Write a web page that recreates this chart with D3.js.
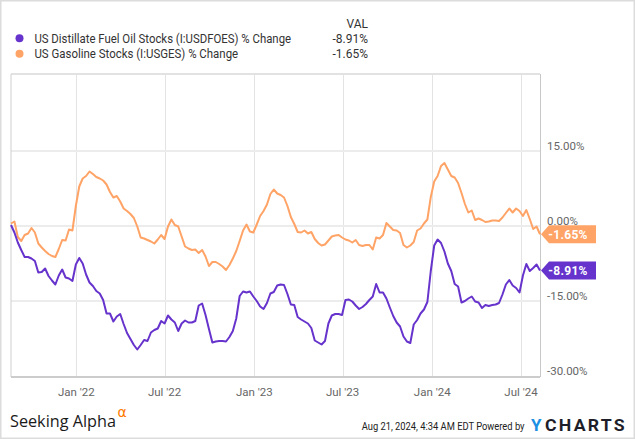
<!DOCTYPE html>
<html><head><meta charset="utf-8">
<script src="https://cdn.jsdelivr.net/npm/d3@7"></script>
<style>html,body{margin:0;padding:0;background:#fff;} svg{display:block;font-family:Roboto,"Noto Sans",sans-serif;}</style>
</head><body><svg id="c" width="635" height="439"></svg>
<script>
// ---- data ----
const seriesNames = ["US Distillate Fuel Oil Stocks (I:USDFOES) % Change", "US Gasoline Stocks (I:USGES) % Change"];
const seriesColors = ["#6633cc", "#ffa366"];
const latestLabels = ["-8.91%", "-1.65%"];
const startWeek = "2021-08-20"; // weekly observations, one per week from this date
const distillate = [0.2,-1.3,-3.3,-4.8,-6.2,-6.2,-6.5,-7.0,-9.3,-9.2,-8.5,-10.0,-10.9,-11.7,-9.9,-8.7,-10.3,-10.5,-11.0,-7.7,
 -6.4,-7.5,-9.7,-11.3,-12.0,-13.0,-13.5,-14.8,-17.5,-17.5,-19.1,-18.1,-17.6,-19.6,-21.4,-22.6,-23.8,-24.7,-23.8,-22.8,
 -23.0,-21.3,-20.8,-20.5,-19.0,-19.5,-17.9,-18.7,-19.3,-21.0,-19.5,-18.9,-19.3,-19.3,-19.0,-15.9,-15.5,-17.8,-20.6,-23.3,
 -23.1,-23.0,-23.0,-23.1,-22.2,-21.0,-18.5,-14.0,-13.1,-13.3,-13.1,-14.1,-15.0,-16.1,-16.6,-15.4,-13.5,-13.2,-11.9,-11.7,
 -11.8,-13.6,-15.7,-15.8,-18.2,-18.7,-19.1,-19.5,-20.4,-22.9,-23.3,-23.7,-23.0,-19.5,-17.9,-17.6,-17.6,-17.8,-14.8,-14.7,
 -15.1,-15.9,-16.6,-16.2,-15.6,-14.8,-14.1,-11.6,-13.3,-13.3,-14.5,-16.3,-18.0,-19.3,-20.1,-22.1,-23.1,-23.4,-19.7,-18.8,
 -17.5,-16.7,-15.2,-9.0,-3.9,-2.7,-3.4,-5.1,-7.5,-9.0,-11.6,-12.1,-15.3,-15.0,-14.5,-14.1,-15.1,-15.3,-16.4,-15.8,
 -16.0,-15.8,-15.7,-15.4,-13.7,-11.7,-10.8,-11.9,-12.4,-13.3,-9.9,-7.6,-9.0,-8.4,-7.7,-8.91];
const gasoline = [0.5,0.9,-2.2,-3.0,-1.8,-1.5,-0.4,-1.3,-3.5,-4.3,-5.0,-5.6,-6.0,-6.2,-4.6,-2.8,-2.9,-0.7,-0.9,4.0,
 7.9,9.5,10.0,10.9,10.4,9.8,9.5,9.1,8.3,6.8,5.7,6.0,4.9,3.5,3.0,2.4,1.6,-0.1,-2.3,-2.5,
 -2.8,-3.1,-3.5,-2.7,-1.8,-2.6,-0.1,1.3,0.2,-0.1,-2.1,-4.1,-4.5,-4.8,-4.7,-5.4,-4.8,-6.1,-8.0,-7.2,
 -7.2,-7.6,-8.1,-8.8,-7.8,-6.5,-5.0,-3.0,-0.9,0.3,-1.1,-1.3,0.3,2.0,3.0,4.3,6.4,7.3,6.5,6.2,
 5.7,4.0,1.8,0.4,-1.2,-1.3,-0.9,-1.5,-1.2,-2.6,-3.4,-3.9,-3.7,-2.9,-2.1,-1.9,-1.8,-2.3,-2.7,-2.9,
 -3.3,-2.8,-3.8,-4.0,-3.8,-3.8,-4.7,-2.3,-2.5,-1.8,0.6,-0.1,-0.8,-0.9,-1.4,-3.8,-4.3,-3.9,-3.2,-0.9,
 -0.5,0.5,1.3,5.8,8.9,10.0,12.0,12.6,11.3,10.0,9.7,8.6,6.6,4.4,2.7,3.1,1.2,1.5,1.2,0.8,
 0.9,1.1,1.1,1.0,1.7,2.6,3.5,2.7,3.5,3.0,2.0,3.2,1.4,-0.6,-0.1,-1.65];
const xTickDates = ["2022-01-01","2022-07-01","2023-01-01","2023-07-01","2024-01-01","2024-07-01"];
const xTickLabels = ["Jan '22","Jul '22","Jan '23","Jul '23","Jan '24","Jul '24"];
const yTicks = [15, 0, -15, -30];
const yTickLabels = ["15.00%","0.00%","-15.00%","-30.00%"];
const headerLabel = "VAL";
const footerDate = "Aug 21, 2024, 4:34 AM EDT Powered by";

// ---- build ----
const svg = d3.select("#c");
const parse = d3.utcParse("%Y-%m-%d");
const t0 = parse(startWeek);
const dates = distillate.map((_, i) => d3.utcDay.offset(t0, 7 * i));
const allSeries = [distillate, gasoline];

const L = 11, R = 540, T = 74, B = 377;
const x = d3.scaleUtc().domain([dates[0], dates[dates.length - 1]]).range([L, R]);
const y = d3.scaleLinear().domain([-30.2, 30.4]).range([B, T]);

// helper: text squeezed horizontally to a target width (via transform)
function fitText(parent, str, x0, y0, width, attrs) {
  const gg = parent.append("g");
  const t = gg.append("text").attr("x", 0).attr("y", 0).text(str);
  Object.entries(attrs).forEach(([k, v]) => t.attr(k, v));
  const w = t.node().getComputedTextLength();
  const s = w > 0 ? width / w : 1;
  gg.attr("transform", `translate(${x0},${y0}) scale(${s},1)`);
  return t;
}

// outer frame
svg.append("rect").attr("x", 0.75).attr("y", 0.75).attr("width", 633.5).attr("height", 437.5)
  .attr("fill", "none").attr("stroke", "#dcdcdc").attr("stroke-width", 1.5);

// gridlines
const g = svg.append("g");
g.selectAll("line.v").data(xTickDates).join("line")
  .attr("x1", d => Math.round(x(parse(d))) + 0.5).attr("x2", d => Math.round(x(parse(d))) + 0.5)
  .attr("y1", T).attr("y2", B).attr("stroke", "#e3e3e3").attr("stroke-width", 1);
g.selectAll("line.h").data(yTicks.filter(d => d > -30)).join("line")
  .attr("x1", L).attr("x2", R).attr("y1", d => y(d)).attr("y2", d => y(d))
  .attr("stroke", "#ececec").attr("stroke-width", 2);
// frame of plot
g.append("line").attr("x1", L).attr("x2", R).attr("y1", T).attr("y2", T).attr("stroke", "#e2e2e2").attr("stroke-width", 2);
g.append("line").attr("x1", L).attr("x2", L).attr("y1", T).attr("y2", B).attr("stroke", "#cfcfcf").attr("stroke-width", 1);
g.append("line").attr("x1", R + 0.5).attr("x2", R + 0.5).attr("y1", T).attr("y2", B).attr("stroke", "#c8c8c8").attr("stroke-width", 1);
g.append("line").attr("x1", L).attr("x2", R).attr("y1", B).attr("y2", B).attr("stroke", "#cccccc").attr("stroke-width", 2);

// y labels
svg.append("g").selectAll("text").data(yTicks).join("text")
  .attr("x", 547).attr("y", d => y(d) - 1.5)
  .attr("font-size", 11.5).attr("fill", "#666").text((d, i) => yTickLabels[i]);

// x labels
svg.append("g").selectAll("text").data(xTickDates).join("text")
  .attr("x", d => x(parse(d))).attr("y", 396).attr("text-anchor", "middle")
  .attr("font-size", 11.5).attr("fill", "#666").text((d, i) => xTickLabels[i]);

// lines
const line = d3.line().x((d, i) => x(dates[i])).y(d => y(d)).curve(d3.curveLinear);
[1, 0].forEach(k => {
  svg.append("path").datum(allSeries[k]).attr("d", line)
    .attr("fill", "none").attr("stroke", seriesColors[k]).attr("stroke-width", 2)
    .attr("stroke-linejoin", "round");
});

// end tags
allSeries.forEach((s, k) => {
  const yy = y(s[s.length - 1]);
  const tg = svg.append("g");
  tg.append("path").attr("d", `M${R + 1},${yy} L${R + 9},${yy - 9} L596,${yy - 9} L596,${yy + 9} L${R + 9},${yy + 9} Z`)
    .attr("fill", seriesColors[k]);
  tg.append("text").attr("x", 568).attr("y", yy + 4.5).attr("text-anchor", "middle")
    .attr("font-size", 12).attr("font-weight", "bold").attr("fill", "#fff")
    .attr("letter-spacing", 0.3).text(latestLabels[k]);
});

// legend
svg.append("text").attr("x", 368).attr("y", 27.5).attr("text-anchor", "end")
  .attr("font-size", 12).attr("fill", "#333").text(headerLabel);
const legW = [257, 204];
seriesNames.forEach((n, k) => {
  const cy = 38.3 + k * 15.5;
  svg.append("circle").attr("cx", 19.5).attr("cy", cy).attr("r", 4).attr("fill", seriesColors[k]);
  fitText(svg, n, 34.4, cy + 4.3, legW[k], {"font-size": 12, "fill": "#333"});
  svg.append("text").attr("x", 368).attr("y", cy + 4.3).attr("text-anchor", "end").attr("font-size", 12)
    .attr("fill", "#333").text(latestLabels[k]);
});

// footer
fitText(svg, "Seeking Alpha", 10, 427, 106, {"font-size": 17, "fill": "#1a1a1a", "font-family": "'Open Sans',Lato,sans-serif"});
svg.append("text").attr("x", 117.5).attr("y", 417).attr("font-family", "'DejaVu Sans',sans-serif")
  .attr("font-size", 14).attr("fill", "#ff7a00").text("α");
fitText(svg, footerDate, 361.7, 429.5, 163, {"font-size": 11.5, "fill": "#222"});
svg.append("text").attr("x", 531).attr("y", 431).attr("font-size", 17).attr("font-weight", "bold")
  .attr("fill", "#1a8fe3").text("Y");
fitText(svg, "CHARTS", 545, 431, 82, {"font-size": 16, "font-weight": "bold", "fill": "#1e1e2a", "letter-spacing": 2});
</script></body></html>
